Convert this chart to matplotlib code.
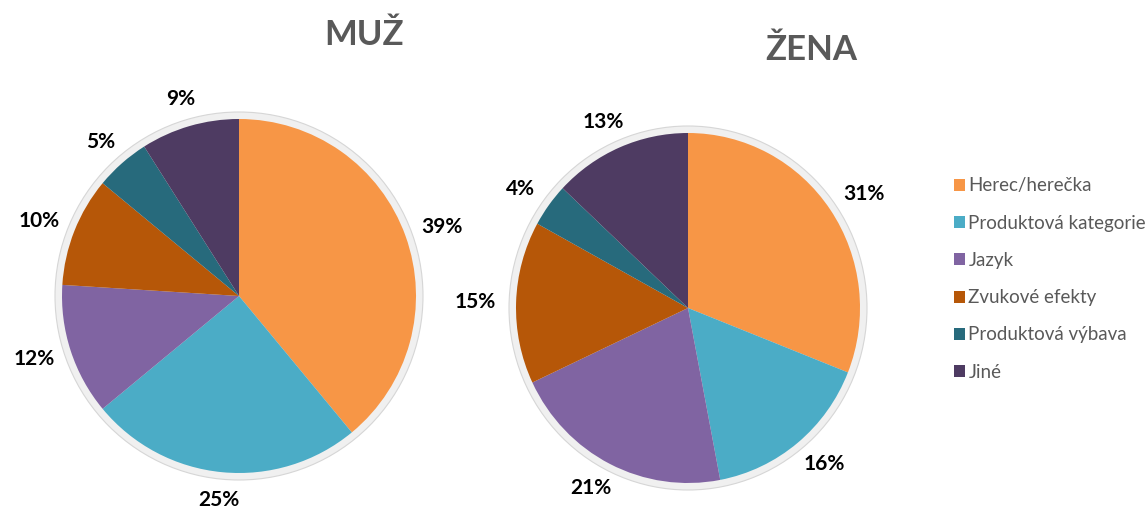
import matplotlib
matplotlib.use('Agg')
import numpy as np
from matplotlib import pyplot as plt
from matplotlib.patches import Ellipse

# data
categories = ['Herec/herečka', 'Produktová kategorie', 'Jazyk',
              'Zvukové efekty', 'Produktová výbava', 'Jiné']
muz_values = [39, 25, 12, 10, 5, 9]
zena_values = [31, 16, 21, 15, 4, 13]
titles = ['MUŽ', 'ŽENA']
colors = ['#F79646', '#4BACC6', '#8064A2', '#B65708', '#276A7C', '#4E3B62']

plt.rcParams['font.family'] = ['Lato', 'DejaVu Sans']

W, H = 1146, 509
fig = plt.figure(figsize=(W / 100, H / 100), dpi=100)
renderer = fig.canvas.get_renderer()


def pie_axes(cx, cy, pad=260):
    # axes placed in pixel coords, 1 data unit = radius
    ax = fig.add_axes([(cx - pad) / W, (H - cy - pad) / H, 2 * pad / W, 2 * pad / H])
    ax.patch.set_alpha(0)
    return ax


def draw_pie(values, cx, cy, rx, ry, pad=260):
    ax = pie_axes(cx, cy, pad)
    ring = 7
    ax.add_patch(Ellipse((0, 0), 2 * (rx + ring) / rx, 2 * (ry + ring) / ry,
                         facecolor='#f0f0f0', edgecolor='#d6d6d6', lw=0.8, zorder=0))
    wedges, _ = ax.pie(values, colors=colors, startangle=90, counterclock=False,
                       wedgeprops=dict(linewidth=0, zorder=2))
    ax.set_aspect('auto')
    ax.set_xlim(-pad / rx, pad / rx)
    ax.set_ylim(-pad / ry, pad / ry)
    ax.axis('off')

    total = sum(values)
    for w, v in zip(wedges, values):
        ang = np.deg2rad((w.theta1 + w.theta2) / 2)
        c, s = np.cos(ang), np.sin(ang)
        t = ax.text(0, 0, '{:d}%'.format(round(100 * v / total)), ha='center', va='center',
                    fontsize=15, fontweight='bold', color='black')
        bb = t.get_window_extent(renderer)
        rr = 1.10 * max(rx, ry)
        px = rr * c + bb.width / 2 * c
        py = rr * s + bb.height / 2 * s
        t.set_position((px / rx, py / ry))
    return wedges


wedges = draw_pie(muz_values, 239, 296, 177, 177)
draw_pie(zena_values, 688, 308, 172, 175)

fig.text(364 / W, 1 - 35 / H, titles[0], ha='center', va='center',
         fontsize=25, fontweight='bold', color='#595959')
fig.text(811 / W, 1 - 50 / H, titles[1], ha='center', va='center',
         fontsize=25, fontweight='bold', color='#595959')

leg = fig.legend(wedges, categories, loc='upper left', bbox_to_anchor=(946 / W, 1 - 170 / H),
                 frameon=False, fontsize=13.5, handlelength=0.6, handleheight=0.6,
                 handletextpad=0.2, labelspacing=1.08, borderaxespad=0)
for txt in leg.get_texts():
    txt.set_color('#595959')

fig.savefig('out.png', dpi=100)
